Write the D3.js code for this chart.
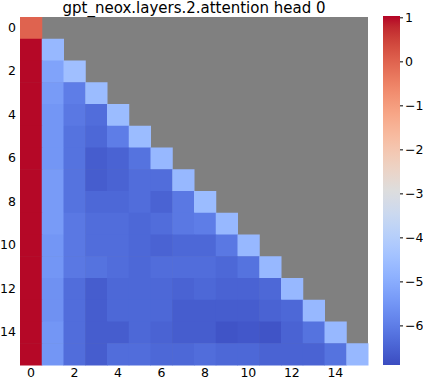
<!DOCTYPE html>
<html><head><meta charset="utf-8">
<script src="https://cdn.jsdelivr.net/npm/d3@7"></script>
<style>body{margin:0;background:#fff}svg{display:block}text{font-family:"DejaVu Sans",sans-serif;fill:#000}</style>
</head><body><svg id="c" width="423" height="381"></svg>
<script>
const title = "gpt_neox.layers.2.attention head 0";
const n = 16;
const xTicks = [0,2,4,6,8,10,12,14];
const yTicks = [0,2,4,6,8,10,12,14];
const cbTicks = [1,0,-1,-2,-3,-4,-5,-6];
const vmin = -6.9, vmax = 1.03;
// lower-triangular rows (row r has r+1 values)
const rows = [
 [0.0],
 [1.0,-4.7],
 [1.0,-5.2,-4.5],
 [1.0,-5.4,-6.0,-4.6],
 [1.0,-5.5,-6.1,-6.3,-4.6],
 [1.0,-5.5,-6.2,-6.4,-6.0,-4.6],
 [1.0,-5.5,-6.2,-6.6,-6.5,-6.2,-4.7],
 [1.0,-5.4,-6.2,-6.6,-6.5,-6.3,-6.3,-4.7],
 [1.0,-5.4,-6.2,-6.4,-6.4,-6.3,-6.5,-6.1,-4.6],
 [1.0,-5.4,-6.1,-6.3,-6.3,-6.4,-6.3,-6.1,-6.0,-4.7],
 [1.0,-5.5,-6.1,-6.3,-6.3,-6.4,-6.5,-6.4,-6.4,-6.1,-4.7],
 [1.0,-5.5,-6.1,-6.2,-6.3,-6.4,-6.3,-6.3,-6.3,-6.4,-6.2,-4.7],
 [1.0,-5.6,-6.3,-6.6,-6.4,-6.4,-6.4,-6.5,-6.4,-6.5,-6.5,-6.4,-4.7],
 [1.0,-5.6,-6.3,-6.6,-6.4,-6.4,-6.4,-6.6,-6.6,-6.6,-6.6,-6.5,-6.4,-4.7],
 [1.0,-5.5,-6.3,-6.6,-6.6,-6.4,-6.5,-6.6,-6.6,-6.75,-6.7,-6.75,-6.5,-6.2,-4.7],
 [1.0,-5.5,-6.3,-6.6,-6.3,-6.3,-6.4,-6.4,-6.3,-6.4,-6.4,-6.5,-6.5,-6.5,-6.2,-4.7]
];
const cw = [[59,76,192],[68,90,204],[77,104,215],[87,117,225],[98,130,234],[108,142,241],[119,154,247],[130,165,251],[141,176,254],[152,185,255],[163,194,255],[174,201,253],[184,208,249],[194,213,244],[204,217,238],[213,219,230],[221,221,221],[229,216,209],[236,211,197],[241,204,185],[245,196,173],[247,187,160],[247,177,148],[247,166,135],[244,154,123],[241,141,111],[236,127,99],[229,112,88],[222,96,77],[213,80,66],[203,62,56],[192,40,47],[180,4,38]];
const cmap = d3.scaleLinear().domain(cw.map((_,i)=>i/(cw.length-1))).range(cw.map(c=>`rgb(${c})`)).interpolate(d3.interpolateRgb).clamp(true);
const norm = d3.scaleLinear().domain([vmin,vmax]).range([0,1]).clamp(true);
const color = v => cmap(norm(v));

const svg = d3.select("#c");
const L=20, T=17, S=348;
const x = d3.scaleBand().domain(d3.range(n)).range([L,L+S]);
const y = d3.scaleBand().domain(d3.range(n)).range([T,T+S]);

svg.append("rect").attr("x",L).attr("y",T).attr("width",S).attr("height",S).attr("fill","#808080");
const cells = [];
rows.forEach((r,i)=>r.forEach((v,j)=>cells.push({i,j,v})));
svg.append("g").selectAll("rect").data(cells).join("rect")
  .attr("x",d=>x(d.j)).attr("y",d=>y(d.i))
  .attr("width",x.bandwidth()+0.5).attr("height",y.bandwidth()+0.5)
  .attr("fill",d=>color(d.v));

svg.append("text").attr("x",L+S/2).attr("y",13).attr("text-anchor","middle").attr("font-size",15).text(title);

const xa = svg.append("g").attr("transform",`translate(0,${T+S})`)
  .call(d3.axisBottom(x).tickValues(xTicks).tickSize(0).tickPadding(3));
xa.select(".domain").remove();
xa.selectAll("text").attr("font-size",12.5).style("font-family","DejaVu Sans");
const ya = svg.append("g").attr("transform",`translate(${L},0)`)
  .call(d3.axisLeft(y).tickValues(yTicks).tickSize(0).tickPadding(4));
ya.select(".domain").remove();
ya.selectAll("text").attr("font-size",12.5).style("font-family","DejaVu Sans");

// colorbar
const cbX=383, cbW=17, cbT=16, cbB=365;
const cy = d3.scaleLinear().domain([vmin,vmax]).range([cbB,cbT]);
const defs = svg.append("defs");
const grad = defs.append("linearGradient").attr("id","g").attr("x1",0).attr("y1",1).attr("x2",0).attr("y2",0);
cw.forEach((c,i)=>grad.append("stop").attr("offset",i/(cw.length-1)).attr("stop-color",`rgb(${c})`));
svg.append("rect").attr("x",cbX).attr("y",cbT).attr("width",cbW).attr("height",cbB-cbT).attr("fill","url(#g)");
const ca = svg.append("g").attr("transform",`translate(${cbX+cbW},0)`)
  .call(d3.axisRight(cy).tickValues(cbTicks).tickSize(3).tickPadding(2).tickFormat(d=>d<0?"\u2212"+Math.abs(d):d));
ca.select(".domain").remove();
ca.selectAll("text").attr("font-size",12.5).style("font-family","DejaVu Sans");
</script></body></html>
